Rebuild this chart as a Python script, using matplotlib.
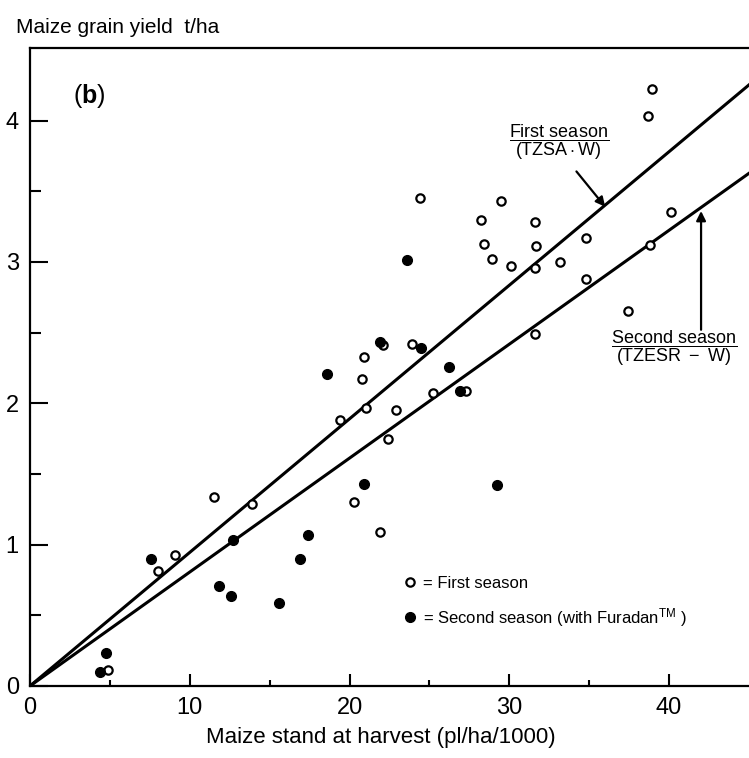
import matplotlib
matplotlib.use("Agg")
import matplotlib.pyplot as plt
import numpy as np

plt.rcParams['font.family'] = ['Liberation Sans', 'DejaVu Sans']
plt.rcParams['mathtext.fontset'] = 'custom'
plt.rcParams['mathtext.rm'] = 'Liberation Sans'
plt.rcParams['mathtext.it'] = 'Liberation Sans:italic'
plt.rcParams['mathtext.bf'] = 'Liberation Sans:bold'

# first season (open circles): stand (pl/ha/1000), yield (t/ha)
first_x = [4.9, 8.0, 9.1, 11.5, 13.9, 19.4, 20.3, 20.8, 20.9, 21.0, 21.9, 22.1,
           22.4, 22.9, 23.9, 24.4, 25.2, 27.3, 28.2, 28.4, 28.9, 29.5, 30.1,
           31.6, 31.7, 31.6, 31.6, 33.2, 34.8, 34.8, 37.4, 38.7, 38.9, 38.8, 40.1]
first_y = [0.11, 0.81, 0.93, 1.34, 1.29, 1.88, 1.30, 2.17, 2.33, 1.97, 1.09, 2.41,
           1.75, 1.95, 2.42, 3.45, 2.07, 2.09, 3.30, 3.13, 3.02, 3.43, 2.97,
           3.28, 3.11, 2.96, 2.49, 3.00, 3.17, 2.88, 2.65, 4.03, 4.22, 3.12, 3.35]

# second season with Furadan (filled circles)
second_x = [4.4, 4.75, 7.6, 11.8, 12.6, 12.7, 15.6, 16.9, 17.4, 18.6, 20.9,
            21.9, 23.6, 24.5, 26.2, 26.9, 29.2]
second_y = [0.10, 0.23, 0.90, 0.71, 0.64, 1.03, 0.59, 0.90, 1.07, 2.21, 1.43,
            2.43, 3.01, 2.39, 2.26, 2.09, 1.42]

# regression lines through the origin
slope_first = 0.0945
slope_second = 0.0806

fig = plt.figure(figsize=(7.49, 7.58), dpi=100)
ax = fig.add_axes([0.040, 0.095, 0.960, 0.842])

line_x = np.array([0, 45])
ax.plot(line_x, slope_first * line_x, color='black', lw=2.2, zorder=2)
ax.plot(line_x, slope_second * line_x, color='black', lw=2.2, zorder=2)

h1, = ax.plot(first_x, first_y, 'o', ls='none', ms=6, mfc='white', mec='black',
              mew=1.6, zorder=3)
h2, = ax.plot(second_x, second_y, 'o', ls='none', ms=7, mfc='black', mec='black',
              zorder=3)

ax.set_xlim(0, 45)
ax.set_ylim(0, 4.515)
ax.set_xticks([0, 10, 20, 30, 40])
ax.set_xticks([5, 15, 25, 35], minor=True)
ax.set_yticks([0, 1, 2, 3, 4])
ax.set_yticks([0.5, 1.5, 2.5, 3.5], minor=True)
ax.tick_params(axis='both', which='both', direction='in', width=1.5, labelsize=17)
ax.tick_params(axis='y', which='major', length=13, pad=8)
ax.tick_params(axis='y', which='minor', length=8)
ax.tick_params(axis='x', which='major', length=9, pad=8)
ax.tick_params(axis='x', which='minor', length=4)

for side in ['left', 'bottom', 'top']:
    ax.spines[side].set_linewidth(1.6)
ax.spines['right'].set_visible(False)

ax.set_xlabel('Maize stand at harvest (pl/ha/1000)', fontsize=16)
ax.xaxis.set_label_coords(0.488, -0.064)
fig.text(0.021, 1 - 33 / 758, 'Maize grain yield  t/ha', fontsize=15, va='baseline')

# panel letter
ax.text(0.060, 0.925, r'$\mathrm{(}\mathbf{b}\mathrm{)}$', transform=ax.transAxes,
        fontsize=18, va='center')

ax.text(33.1, 3.85, r'$\dfrac{\mathrm{First\ season}}{\mathrm{(TZSA\cdot W)}}$',
        fontsize=13, ha='center', va='center')
ax.annotate('', xy=(36.0, 3.39), xytext=(34.2, 3.64),
            arrowprops=dict(arrowstyle='-|>', color='black', lw=1.6,
                            mutation_scale=14, shrinkA=0, shrinkB=0))

ax.text(40.3, 2.39, r'$\dfrac{\mathrm{Second\ season}}{\mathrm{(TZESR\ -\ W)}}$',
        fontsize=13, ha='center', va='center')
ax.annotate('', xy=(42.0, 3.36), xytext=(42.0, 2.52),
            arrowprops=dict(arrowstyle='-|>', color='black', lw=1.6,
                            mutation_scale=14, shrinkA=0, shrinkB=0))

ax.legend([h1, h2], ['= First season', r'= Second season (with Furadan$^{\mathrm{TM}}$ )'],
          loc='upper left', bbox_to_anchor=(0.51, 0.183), frameon=False,
          fontsize=12, handlelength=0.8, handletextpad=0.4, labelspacing=0.9,
          borderaxespad=0)

fig.savefig('out.png', dpi=100)
